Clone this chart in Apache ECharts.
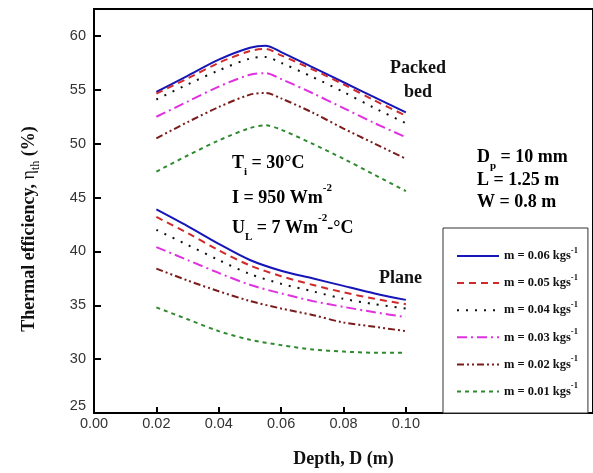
<!DOCTYPE html>
<html><head><meta charset="utf-8">
<script src="https://cdn.jsdelivr.net/npm/echarts@6/dist/echarts.min.js"></script>
<style>html,body{margin:0;padding:0;background:#fff}#c{width:593px;height:473px}</style>
</head><body><div id="c"></div>
<script>
// ---- data ----
const depthPacked = [0.02, 0.03, 0.04, 0.05, 0.055, 0.06, 0.07, 0.08, 0.09, 0.10];
const depthPlane  = [0.02, 0.03, 0.04, 0.05, 0.06, 0.07, 0.08, 0.09, 0.10];
const massFlows = ['0.06', '0.05', '0.04', '0.03', '0.02', '0.01'];

const packed006 = [54.8, 56.3, 57.8, 58.9, 59.1, 58.5, 57.1, 55.7, 54.3, 52.9];
const packed005 = [54.65, 56.05, 57.5, 58.6, 58.8, 58.2, 56.9, 55.5, 54.0, 52.6];
const packed004 = [54.1, 55.5, 56.8, 57.9, 58.05, 57.5, 56.2, 54.8, 53.3, 51.9];
const packed003 = [52.5, 53.9, 55.3, 56.4, 56.55, 56.0, 54.7, 53.3, 51.9, 50.6];
const packed002 = [50.5, 52.0, 53.4, 54.55, 54.7, 54.2, 52.9, 51.4, 50.0, 48.6];
const packed001 = [47.4, 48.9, 50.3, 51.45, 51.7, 51.3, 50.0, 48.6, 47.1, 45.6];

const plane006 = [43.9, 42.35, 40.7, 39.2, 38.2, 37.5, 36.8, 36.1, 35.5];
const plane005 = [43.2, 41.7, 40.1, 38.7, 37.7, 36.9, 36.2, 35.6, 35.1];
const plane004 = [42.0, 40.6, 39.2, 37.9, 37.0, 36.3, 35.6, 35.1, 34.7];
const plane003 = [40.4, 39.2, 38.0, 36.9, 36.1, 35.4, 34.85, 34.35, 33.9];
const plane002 = [38.4, 37.3, 36.3, 35.4, 34.7, 34.1, 33.4, 33.0, 32.6];
const plane001 = [34.8, 33.7, 32.6, 31.8, 31.3, 30.9, 30.7, 30.6, 30.6];

const xTickValues = [0.02, 0.04, 0.06, 0.08, 0.10];
const xLabelValues = [0, 0.02, 0.04, 0.06, 0.08, 0.10];

const packedSets = [packed006, packed005, packed004, packed003, packed002, packed001];
const planeSets = [plane006, plane005, plane004, plane003, plane002, plane001];

// ---- styles ----
const lineStyles = [
  { color: '#1515b8', type: 'solid', width: 2 },
  { color: '#d02a2a', type: [7, 5], width: 2 },
  { color: '#111111', type: [2, 7], width: 2 },
  { color: '#e030e0', type: [10, 4, 2, 4], width: 2 },
  { color: '#7a1c1c', type: [7, 3, 2, 3, 2, 3], width: 2 },
  { color: '#2f8a2f', type: [4, 4], width: 2 }
];

const SERIF = 'Liberation Serif';
const SANS = 'Liberation Sans';

function pairs(xs, ys) { return xs.map((x, i) => [x, ys[i]]); }

const series = [];
massFlows.forEach((m, i) => {
  series.push({
    name: m, type: 'line', symbol: 'none', smooth: 0.3,
    data: pairs(depthPacked, packedSets[i]),
    lineStyle: lineStyles[i], itemStyle: { color: lineStyles[i].color }
  });
});
massFlows.forEach((m, i) => {
  series.push({
    name: m, type: 'line', symbol: 'none', smooth: 0.3,
    data: pairs(depthPlane, planeSets[i]),
    lineStyle: lineStyles[i], itemStyle: { color: lineStyles[i].color }
  });
});

const main = { fontFamily: SERIF, fontWeight: 'bold', fontSize: 18, color: '#111', lineHeight: 30, verticalAlign: 'middle' };
const sup = { fontFamily: SERIF, fontWeight: 'bold', fontSize: 11, color: '#111', lineHeight: 11, verticalAlign: 'top' };
const sub = { fontFamily: SERIF, fontWeight: 'bold', fontSize: 11, color: '#111', lineHeight: 15, verticalAlign: 'bottom' };
const richAnn = { a: main, p: sup, b: sub };

function ann(text, x, y, align) {
  return { type: 'text', x: x, y: y, z: 100,
    style: { text: text, rich: richAnn, align: align || 'left', verticalAlign: 'middle' } };
}

const chart = echarts.init(document.getElementById('c'), null, { renderer: 'canvas' });
chart.setOption({
  animation: false,
  backgroundColor: '#fff',
  grid: { left: 94, top: 9, width: 502, height: 408, show: true, borderColor: '#000', borderWidth: 2 },
  xAxis: {
    type: 'value', min: 0, max: 0.16,
    name: 'Depth, D (m)', nameLocation: 'middle', nameGap: 37,
    nameTextStyle: { fontFamily: SERIF, fontWeight: 'bold', fontSize: 18, color: '#111' },
    axisLine: { show: true, onZero: false, lineStyle: { color: '#000', width: 2 } },
    axisTick: { show: true, inside: true, length: 6, customValues: xTickValues, lineStyle: { color: '#000', width: 2 } },
    axisLabel: { customValues: xLabelValues, margin: 3, fontFamily: SANS, fontSize: 14.5, color: '#333',
      formatter: v => v.toFixed(2) },
    splitLine: { show: false }
  },
  yAxis: {
    type: 'value', min: 25, max: 62.5, interval: 5,
    name: '{a|Thermal efficiency, }{e|η}{b|th}{a| (%)}', nameLocation: 'middle', nameGap: 52,
    nameTextStyle: { padding: [0, 36, 0, 0], rich: {
      a: { fontFamily: SERIF, fontWeight: 'bold', fontSize: 18, color: '#111', lineHeight: 26, verticalAlign: 'middle' },
      e: { fontFamily: SERIF, fontSize: 18, color: '#111', lineHeight: 26, verticalAlign: 'middle' },
      b: { fontFamily: SERIF, fontSize: 12, color: '#111', lineHeight: 13, verticalAlign: 'bottom' }
    } },
    axisLine: { show: true, lineStyle: { color: '#000', width: 2 } },
    axisTick: { show: true, inside: true, length: 7, lineStyle: { color: '#000', width: 2 } },
    axisLabel: { margin: 8, fontFamily: SANS, fontSize: 14.5, color: '#333', showMaxLabel: false,
      formatter: v => (v === 25 ? '{s|25}' : String(v)),
      rich: { s: { fontFamily: SANS, fontSize: 14.5, color: '#333', padding: [0, 0, 14, 0] } } },
    splitLine: { show: false }
  },
  legend: {
    data: massFlows,
    orient: 'vertical', left: 443, top: 228,
    padding: [18, 10, 15, 13], itemGap: 10.6, itemWidth: 42, itemHeight: 14,
    borderColor: '#333', borderWidth: 1, backgroundColor: '#fff',
    itemStyle: { opacity: 0, color: 'transparent', borderWidth: 0 },
    formatter: n => '{a|m = ' + n + ' kgs}{s|-1}',
    textStyle: { rich: {
      a: { fontFamily: SERIF, fontWeight: 'bold', fontSize: 12.5, color: '#111', lineHeight: 20, verticalAlign: 'middle' },
      s: { fontFamily: SERIF, fontWeight: 'bold', fontSize: 8.5, color: '#111', lineHeight: 8, verticalAlign: 'top' }
    } }
  },
  graphic: [
    { type: 'text', x: 418, y: 80, z: 100, style: { text: 'Packed\nbed', fontFamily: SERIF, fontWeight: 'bold', fontSize: 18, fill: '#111', lineHeight: 24, align: 'center', verticalAlign: 'middle' } },
    { type: 'text', x: 379, y: 278, z: 100, style: { text: 'Plane', fontFamily: SERIF, fontWeight: 'bold', fontSize: 18, fill: '#111', align: 'left', verticalAlign: 'middle' } },
    ann('{a|T}{b|i}{a| = 30°C}', 232, 163),
    ann('{a|I = 950 Wm}{p|-2}', 232, 198),
    ann('{a|U}{b|L}{a| = 7 Wm}{p|-2}{a|-°C}', 232, 228),
    ann('{a|D}{b|p}{a| = 10 mm}', 477, 157),
    ann('{a|L = 1.25 m}', 477, 180),
    ann('{a|W = 0.8 m}', 477, 202)
  ],
  series: series
});
</script>
</body></html>
